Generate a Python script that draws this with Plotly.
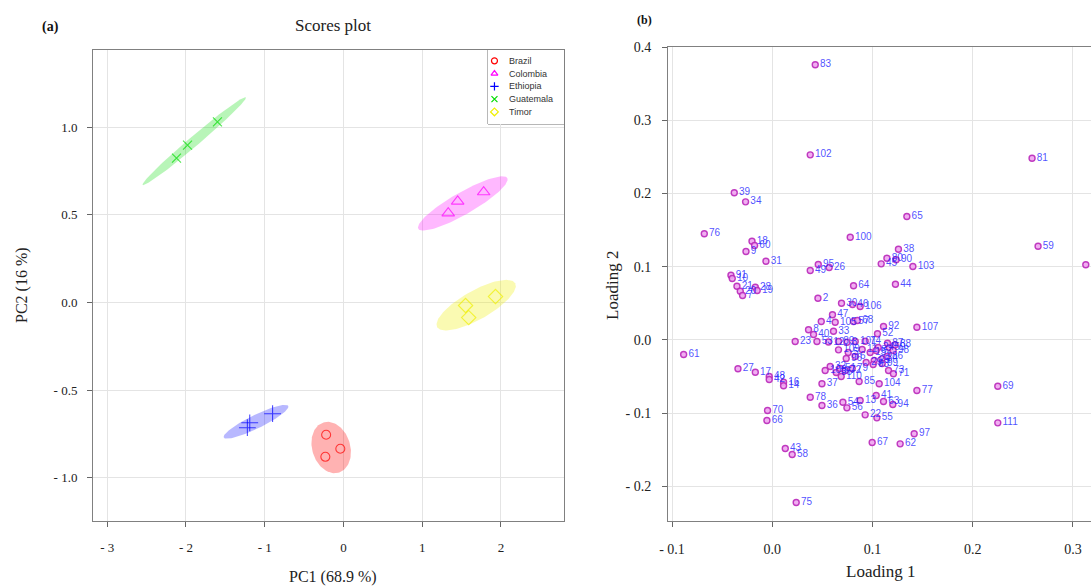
import numpy as np
import plotly.graph_objects as go

# ---------------- Scores plot (a) data ----------------
groups = ["Brazil", "Colombia", "Ethiopia", "Guatemala", "Timor"]
pc1 = {
    "Brazil": [-0.22, -0.23, -0.04],
    "Colombia": [1.33, 1.45, 1.78],
    "Ethiopia": [-1.22, -1.19, -0.90],
    "Guatemala": [-2.12, -1.98, -1.60],
    "Timor": [1.55, 1.59, 1.93],
}
pc2 = {
    "Brazil": [-0.754, -0.880, -0.834],
    "Colombia": [0.51, 0.577, 0.63],
    "Ethiopia": [-0.714, -0.686, -0.634],
    "Guatemala": [0.823, 0.897, 1.03],
    "Timor": [-0.017, -0.086, 0.034],
}
# confidence ellipses: centre and two conjugate half-axis vectors (data units)
ell_center = {
    "Brazil": (-0.156, -0.827), "Colombia": (1.515, 0.565), "Ethiopia": (-1.11, -0.68),
    "Guatemala": (-1.895, 0.92), "Timor": (1.685, -0.015),
}
ell_u = {
    "Brazil": (-0.020, 0.146), "Colombia": (0.565, 0.145), "Ethiopia": (0.41, 0.09),
    "Guatemala": (0.655, 0.25), "Timor": (0.495, 0.125),
}
ell_v = {
    "Brazil": (0.250, -0.015), "Colombia": (0.069, -0.055), "Ethiopia": (0.037, -0.035),
    "Guatemala": (0.041, -0.022), "Timor": (0.090, -0.072),
}
pc1_ticks = [-3, -2, -1, 0, 1, 2]
pc1_ticktext = ["- 3", "- 2", "- 1", "0", "1", "2"]
pc2_ticks = [1.0, 0.5, 0.0, -0.5, -1.0]
pc2_ticktext = ["1.0", "0.5", "0.0", "- 0.5", "- 1.0"]

# ---------------- Loadings plot (b) data ----------------
load_labels = [
    "83", "102", "81", "59", "1", "65", "38", "80", "90", "45", "103", "100", "44", "64",
    "95", "49", "26", "39", "34", "76", "18", "60", "9", "31", "91", "10", "21", "20", "7",
    "28", "19", "2", "30", "46", "106", "47", "4", "105", "57", "68", "92", "107", "8", "40",
    "33", "52", "23", "53", "12", "89", "3", "101", "74", "87", "88", "50", "109", "84", "73",
    "71", "85", "104", "37", "77", "78", "36", "54", "56", "13", "41", "63", "94", "22", "55",
    "70", "66", "61", "27", "17", "48", "42", "16", "14", "43", "58", "75", "67", "62", "97",
    "69", "111", "5", "6", "11", "15", "24", "25", "29", "32", "35", "51", "72", "79", "82",
    "86", "93", "96", "98", "99", "108", "110",
]
loading1 = [
    0.0429, 0.0379, 0.2592, 0.2652, 0.3128, 0.1343, 0.1259, 0.1144, 0.1236, 0.1087, 0.1403,
    0.0778, 0.1229, 0.0811, 0.0459, 0.0379, 0.0568, -0.0379, -0.0266, -0.0678, -0.0202,
    -0.0176, -0.0262, -0.0063, -0.0412, -0.0399, -0.0352, -0.0319, -0.0296, -0.0169, -0.0150,
    0.0456, 0.0691, 0.0801, 0.0877, 0.0601, 0.0489, 0.0628, 0.0811, 0.0850, 0.1110, 0.1443,
    0.0362, 0.0412, 0.0611, 0.1050, 0.0229, 0.0446, 0.0561, 0.0661, 0.0745, 0.0828, 0.0927,
    0.1150, 0.1226, 0.1169, 0.0661, 0.1094, 0.1160, 0.1209, 0.0867, 0.1067, 0.0496, 0.1443,
    0.0379, 0.0496, 0.0705, 0.0745, 0.0877, 0.1037, 0.1110, 0.1203, 0.0927, 0.1044, -0.0047,
    -0.0053, -0.0884, -0.0342, -0.0169, -0.0030, -0.0030, 0.0113, 0.0113, 0.0130, 0.0199,
    0.0239, 0.0997, 0.1276, 0.1416, 0.2250, 0.2250, 0.0758, 0.0828, 0.0897, 0.0977, 0.1057,
    0.1017, 0.0937, 0.0578, 0.0638, 0.0678, 0.0728, 0.0798, 0.1037, 0.1147, 0.1007, 0.0738,
    0.1206, 0.1097, 0.0528, 0.0688,
]
loading2 = [
    0.3757, 0.2527, 0.2481, 0.1279, 0.1025, 0.1684, 0.1238, 0.1115, 0.1093, 0.1038, 0.1001,
    0.1402, 0.0760, 0.0738, 0.1029, 0.0947, 0.0988, 0.2008, 0.1885, 0.1448, 0.1347, 0.1288,
    0.1206, 0.1074, 0.0883, 0.0837, 0.0732, 0.0664, 0.0605, 0.0719, 0.0673, 0.0568, 0.0500,
    0.0482, 0.0455, 0.0342, 0.0250, 0.0240, 0.0250, 0.0264, 0.0182, 0.0172, 0.0137, 0.0072,
    0.0117, 0.0082, -0.0023, -0.0023, -0.0030, -0.0023, -0.0033, -0.0023, -0.0019, -0.0046,
    -0.0068, -0.0109, -0.0137, -0.0260, -0.0419, -0.0464, -0.0570, -0.0601, -0.0601, -0.0693,
    -0.0784, -0.0898, -0.0852, -0.0929, -0.0829, -0.0761, -0.0843, -0.0884, -0.1025, -0.1066,
    -0.0966, -0.1102, -0.0201, -0.0396, -0.0443, -0.0501, -0.0542, -0.0579, -0.0628, -0.1485,
    -0.1567, -0.2223, -0.1403, -0.1421, -0.1284, -0.0634, -0.1134, -0.0173, -0.0228, -0.0133,
    -0.0173, -0.0105, -0.0283, -0.0310, -0.0364, -0.0447, -0.0392, -0.0419, -0.0392, -0.0146,
    -0.0228, -0.0337, -0.0255, -0.0146, -0.0324, -0.0419, -0.0501,
]
l1_ticks = [-0.1, 0.0, 0.1, 0.2, 0.3]
l1_ticktext = ["- 0.1", "0.0", "0.1", "0.2", "0.3"]
l2_ticks = [0.4, 0.3, 0.2, 0.1, 0.0, -0.1, -0.2]
l2_ticktext = ["0.4", "0.3", "0.2", "0.1", "0.0", "- 0.1", "- 0.2"]

# ---------------- styles ----------------
W, H = 1091, 587
serif = "Liberation Serif, Times New Roman, serif"
sans = "Liberation Sans, Arial, sans-serif"
col = {"Brazil": "255,0,0", "Colombia": "255,0,255", "Ethiopia": "0,0,255",
       "Guatemala": "0,220,0", "Timor": "240,240,0"}
sym = {"Brazil": "circle-open", "Colombia": "triangle-up-open", "Ethiopia": "cross-thin",
       "Guatemala": "x-thin", "Timor": "diamond-open"}
msize = {"Brazil": 9, "Colombia": 11, "Ethiopia": 12, "Guatemala": 9, "Timor": 11}
falpha = {"Brazil": 0.3, "Colombia": 0.28, "Ethiopia": 0.28, "Guatemala": 0.28, "Timor": 0.3}

fig = go.Figure()
t = np.linspace(0, 2 * np.pi, 120)
for g in groups:
    cx, cy = ell_center[g]
    ux, uy = ell_u[g]
    vx, vy = ell_v[g]
    ex = cx + np.cos(t) * ux + np.sin(t) * vx
    ey = cy + np.cos(t) * uy + np.sin(t) * vy
    fig.add_trace(go.Scatter(x=ex, y=ey, mode="lines", fill="toself",
                             fillcolor=f"rgba({col[g]},{falpha[g]})",
                             line=dict(width=0), hoverinfo="skip", showlegend=False,
                             xaxis="x", yaxis="y"))
for g in groups:
    fig.add_trace(go.Scatter(x=pc1[g], y=pc2[g], mode="markers", name=g, showlegend=False,
                             marker=dict(symbol=sym[g], size=msize[g],
                                         color=f"rgba({col[g]},0.7)",
                                         line=dict(width=1.1, color=f"rgba({col[g]},0.7)")),
                             xaxis="x", yaxis="y"))

# custom legend (box inside scores plot)
n = len(groups)
leg_y = [1 - (i + 0.85) / 5.8 for i in range(n)]
for i, g in enumerate(groups):
    fig.add_trace(go.Scatter(x=[0.085], y=[leg_y[i]], mode="markers", showlegend=False,
                             marker=dict(symbol=sym[g], size=6, color=f"rgb({col[g]})",
                                         line=dict(width=1.2, color=f"rgb({col[g]})")),
                             xaxis="x3", yaxis="y3", hoverinfo="skip"))

# loadings
fig.add_trace(go.Scatter(x=loading1, y=loading2, mode="markers+text", text=load_labels,
                         textposition="middle right",
                         textfont=dict(family=sans, size=10, color="rgba(30,30,255,0.8)"),
                         marker=dict(symbol="circle", size=6, color="rgba(240,165,240,0.9)",
                                     line=dict(width=1.4, color="rgba(185,40,185,0.9)")),
                         showlegend=False, xaxis="x2", yaxis="y2"))

axis_common = dict(showgrid=True, gridcolor="#e4e4e4", gridwidth=1, zeroline=False,
                   showline=True, linecolor="#808080", linewidth=1, mirror=True,
                   ticks="outside", ticklen=5, tickcolor="#666", tickwidth=1,
                   automargin=False)

fig.update_layout(
    width=W, height=H, margin=dict(l=0, r=0, t=0, b=0, autoexpand=False),
    paper_bgcolor="white", plot_bgcolor="white", hovermode=False,
    xaxis=dict(domain=[93 / W, 564 / W], range=[-3.18, 2.80], tickvals=pc1_ticks,
               ticktext=pc1_ticktext, anchor="y", ticklabelstandoff=9,
               tickfont=dict(family=serif, size=13, color="#222"), **axis_common),
    yaxis=dict(domain=[(H - 521) / H, (H - 50) / H], range=[-1.246, 1.44], tickvals=pc2_ticks,
               ticktext=pc2_ticktext, anchor="x", ticklabelstandoff=7,
               tickfont=dict(family=serif, size=13, color="#222"), **axis_common),
    xaxis2=dict(domain=[668 / W, 1.0], range=[-0.104, 0.318], tickvals=l1_ticks,
                ticktext=l1_ticktext, anchor="y2", ticklabelstandoff=10,
                tickfont=dict(family=serif, size=14, color="#222"), **axis_common),
    yaxis2=dict(domain=[(H - 521) / H, (H - 47) / H], range=[-0.2475, 0.4], tickvals=l2_ticks,
                ticktext=l2_ticktext, anchor="x2", ticklabelstandoff=8,
                tickfont=dict(family=serif, size=14, color="#222"), **axis_common),
    xaxis3=dict(domain=[488 / W, 564 / W], range=[0, 1], visible=False, fixedrange=True,
                automargin=False),
    yaxis3=dict(domain=[(H - 124) / H, (H - 50) / H], range=[0, 1], visible=False,
                fixedrange=True, anchor="x3", automargin=False),
)

shapes = [dict(type="rect", xref="x3 domain", yref="y3 domain", x0=0, x1=1, y0=0, y1=1,
               line=dict(color="#707070", width=1), fillcolor="white", layer="below")]
fig.update_layout(shapes=shapes)

ann = []
for i, g in enumerate(groups):
    ann.append(dict(xref="x3", yref="y3", x=0.25, y=leg_y[i], text=g, showarrow=False,
                    xanchor="left", yanchor="middle",
                    font=dict(family=sans, size=9, color="#333")))


def paper_text(x, y, text, size, angle=0, color="#222"):
    return dict(xref="paper", yref="paper", x=x / W, y=(H - y) / H, text=text,
                showarrow=False, xanchor="center", yanchor="middle", textangle=angle,
                font=dict(family=serif, size=size, color=color))


ann += [
    paper_text(333, 25, "Scores plot", 17),
    paper_text(50, 27, "<b>(a)</b>", 14, color="#111"),
    paper_text(644, 20, "<b>(b)</b>", 12, color="#111"),
    paper_text(333, 577, "PC1 (68.9 %)", 16),
    paper_text(22, 285, "PC2 (16 %)", 16, angle=-90),
    paper_text(880, 571, "Loading 1", 17),
    paper_text(612, 285, "Loading 2", 17, angle=-90),
]
fig.update_layout(annotations=ann)

fig.write_html("out.html", config={"displayModeBar": False},
               post_script="document.body.style.margin='0';")
